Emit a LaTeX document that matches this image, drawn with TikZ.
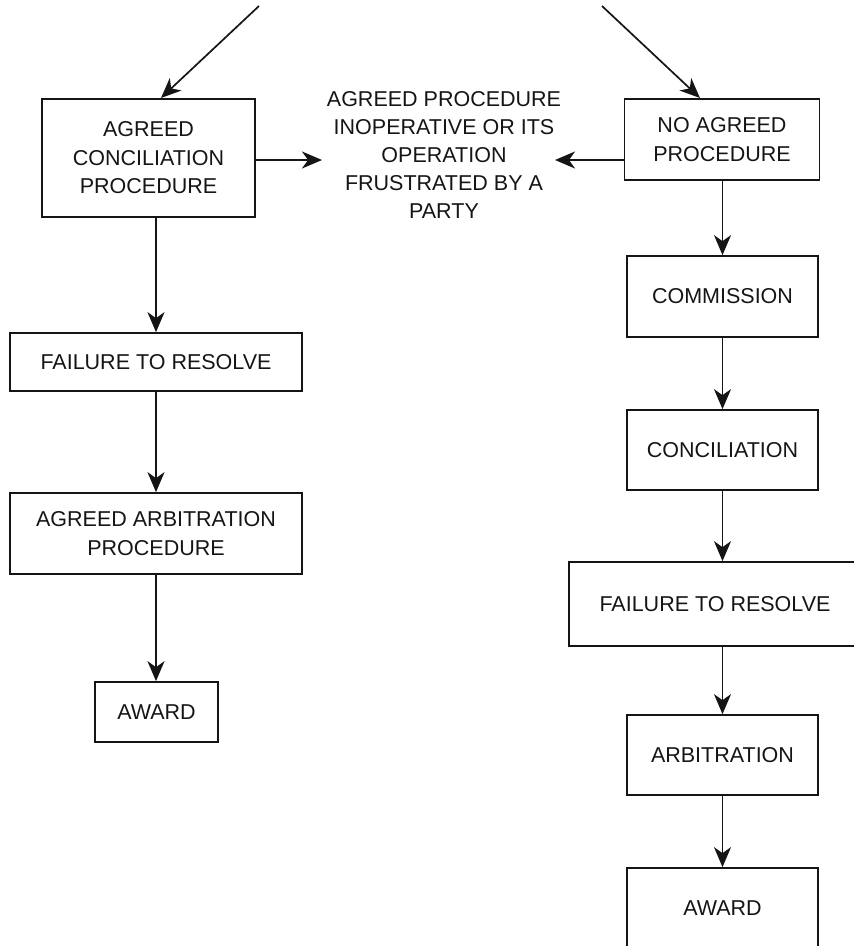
\documentclass[tikz,border=0pt]{standalone}
\usepackage{fontspec}
\setmainfont{Liberation Sans}
\usetikzlibrary{arrows.meta}
\definecolor{ink}{HTML}{151515}
\begin{document}
\begin{tikzpicture}[x=1pt,y=-1pt,
  box/.style={draw=ink, line width=1.7pt, text=ink, align=center, inner sep=0pt,
    font=\fontsize{21.5}{28.5}\selectfont},
  lbl/.style={text=ink, align=center, inner sep=0pt, font=\fontsize{21.5}{28}\selectfont},
  arr/.style={draw=ink, line width=1.7pt, -{Stealth[length=20pt,width=17pt,inset=6pt]}}]
\useasboundingbox (0,0) rectangle (854,946);
% left column
\node[box, minimum width=213pt, minimum height=118pt] (lcon) at (148.5,158) {AGREED\\CONCILIATION\\PROCEDURE};
\node[box, minimum width=292pt, minimum height=58pt] (lfail) at (156,362) {FAILURE TO RESOLVE};
\node[box, minimum width=292pt, minimum height=81pt] (larb) at (156,533.5) {AGREED ARBITRATION\\PROCEDURE};
\node[box, minimum width=123pt, minimum height=60pt] (laward) at (156.5,712) {AWARD};
% middle
\node[lbl] (mid) at (444,155) {AGREED PROCEDURE\\INOPERATIVE OR ITS\\OPERATION\\FRUSTRATED BY A\\PARTY};
% right column
\node[box, minimum width=195pt, minimum height=81pt] (rno) at (722,139.5) {NO AGREED\\PROCEDURE};
\node[box, minimum width=191pt, minimum height=81pt] (rcom) at (722.5,296.5) {COMMISSION};
\node[box, minimum width=191pt, minimum height=80pt] (rcon) at (722.5,450) {CONCILIATION};
\node[box, minimum width=292pt, minimum height=84pt] (rfail) at (715,604) {FAILURE TO RESOLVE};
\node[box, minimum width=191pt, minimum height=80pt] (rarb) at (722.5,755) {ARBITRATION};
\node[box, minimum width=191pt, minimum height=80pt] (raward) at (722.5,908) {AWARD};
% free ends
\coordinate (tl) at (259,6);
\coordinate (tlend) at (161,98);
\coordinate (tr) at (602,6);
\coordinate (trend) at (700,98);
\coordinate (ml) at (322,160);
\coordinate (mr) at (555,160);
% connectors
\draw[arr] (tl) -- (tlend);
\draw[arr] (tr) -- (trend);
\draw[arr] (lcon.east |- ml) -- (ml);
\draw[arr] (rno.west |- mr) -- (mr);
\draw[arr] (lfail.north |- lcon.south) -- (lfail.north);
\draw[arr] (lfail.south) -- (larb.north);
\draw[arr] (larb.south) -- (laward.north -| larb.south);
\draw[arr] (rno.south -| rcom.north) -- (rcom.north);
\draw[arr] (rcom.south) -- (rcon.north);
\draw[arr] (rcon.south) -- (rcon.south |- rfail.north);
\draw[arr] (rarb.north |- rfail.south) -- (rarb.north);
\draw[arr] (rarb.south) -- (raward.north);
\end{tikzpicture}
\end{document}
